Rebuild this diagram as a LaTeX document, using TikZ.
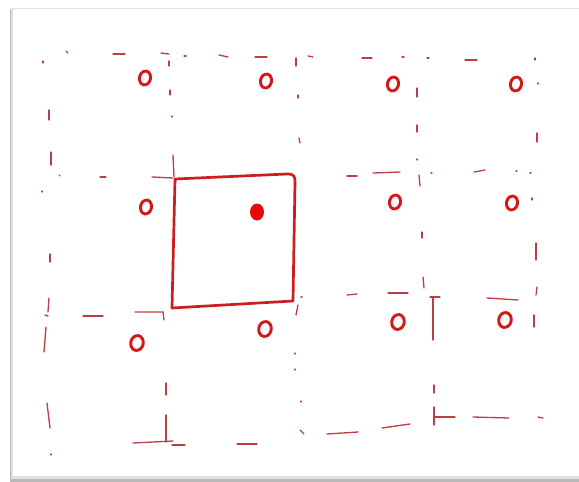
\documentclass[tikz,border=0pt]{standalone}
\usetikzlibrary{shapes.geometric}
\definecolor{dashc}{RGB}{190,60,66}
\definecolor{ringc}{RGB}{210,25,25}
\definecolor{boxc}{RGB}{205,30,30}
\definecolor{dotc}{RGB}{230,10,10}
\tikzset{
  dsh/.style={draw=dashc, line width=1.3pt, line cap=round},
  ring/.style={ellipse, draw=ringc, line width=2.9pt, minimum width=11pt, minimum height=14pt, inner sep=0pt, rotate=-12},
  bigring/.style={ring, minimum width=12.5pt, minimum height=15pt},
  reddot/.style={ellipse, fill=dotc, minimum width=14pt, minimum height=17pt, inner sep=0pt},
  sqbox/.style={draw=boxc, line width=2.7pt, line join=round}
}
\begin{document}
\begin{tikzpicture}[x=1pt,y=-1pt]
\useasboundingbox (0,0) rectangle (579,482);
% card with shadow
\fill[white] (0,0) rectangle (579,482);
\fill[gray!55] (10,10) rectangle (579,482);
\fill[gray!25] (11,8) rectangle (579,479);
\fill[white] (13,9) rectangle (579,476);
% top row dashes
\draw[dsh] (43,61)--(43,63);
\draw[dsh] (66,51)--(68,53);
\draw[dsh] (113,54)--(125,54);
\draw[dsh] (161,53)--(169,54);
\draw[dsh] (184,56)--(186,56);
\draw[dsh] (219,55)--(228,57);
\draw[dsh] (255,57)--(267,57);
\draw[dsh] (296,58)--(296,66);
\draw[dsh] (169,61)--(169,66);
\draw[dsh] (308,56)--(313,57);
\draw[dsh] (362,58)--(372,58);
\draw[dsh] (402,57)--(404,57);
\draw[dsh] (427,58)--(429,58);
\draw[dsh] (465,60)--(477,60);
\draw[dsh] (535,58)--(535,60);
% upper verticals
\draw[dsh] (170,90)--(170,95);
\draw[dsh] (172,116)--(172,117);
\draw[dsh] (49,110)--(49,120);
\draw[dsh] (298,95)--(298,98);
\draw[dsh] (299,138)--(300,143);
\draw[dsh] (51,152)--(51,165);
\draw[dsh] (417,88)--(417,97);
\draw[dsh] (538,83)--(538,84);
\draw[dsh] (417,125)--(417,132);
\draw[dsh] (537,133)--(537,142);
\draw[dsh] (417,159)--(417,160);
% second horizontal
\draw[dsh] (59,175)--(60,176);
\draw[dsh] (100,177)--(106,177);
\draw[dsh] (152,177)--(173,178);
\draw[dsh] (173,155)--(174,177);
\draw[dsh] (347,176)--(357,176);
\draw[dsh] (373,173)--(400,172);
\draw[dsh] (419,175)--(420,186);
\draw[dsh] (431,173)--(432,173);
\draw[dsh] (474,172)--(485,170);
\draw[dsh] (516,171)--(517,171);
\draw[dsh] (530,173)--(531,173);
% middle section
\draw[dsh] (42,191)--(42,192);
\draw[dsh] (532,198)--(532,200);
\draw[dsh] (50,254)--(50,262);
\draw[dsh] (422,232)--(422,238);
\draw[dsh] (536,243)--(536,260);
\draw[dsh] (423,277)--(424,288);
\draw[dsh] (537,287)--(536,295);
\draw[dsh] (49,298)--(48,312);
\draw[dsh] (45,315)--(48,316);
\draw[dsh] (83,316)--(103,316);
\draw[dsh] (135,312)--(163,312)--(164,320);
\draw[dsh] (301,297)--(302,297);
\draw[dsh] (298,305)--(296,315);
\draw[dsh] (347,295)--(357,294);
\draw[dsh] (388,293)--(408,293);
\draw[dsh] (430,297)--(440,297);
\draw[dsh] (433,297)--(433,340);
\draw[dsh] (487,298)--(518,300);
\draw[dsh] (534,315)--(534,327);
\draw[dsh] (46,327)--(44,352);
% bottom section
\draw[dsh] (295,353)--(295,354);
\draw[dsh] (295,369)--(295,370);
\draw[dsh] (434,385)--(434,393);
\draw[dsh] (301,401)--(301,402);
\draw[dsh] (434,407)--(434,425);
\draw[dsh] (434,417)--(455,417);
\draw[dsh] (473,417)--(509,418);
\draw[dsh] (538,417)--(543,418);
\draw[dsh] (300,430)--(304,434);
\draw[dsh] (327,434)--(358,432);
\draw[dsh] (382,428)--(410,424);
\draw[dsh] (47,403)--(50,428);
\draw[dsh] (51,454)--(51,455);
\draw[dsh] (166,383)--(166,395);
\draw[dsh] (166,415)--(166,442);
\draw[dsh] (133,443)--(173,441);
\draw[dsh] (172,445)--(185,445);
\draw[dsh] (237,444)--(257,444);
% highlighted square
\draw[sqbox] (175,179) -- (287,174) .. controls (294,174) and (295,176) .. (295,182) -- (293,301) -- (172,308) -- cycle;
% rings
\node[ring] (r11) at (145,78) {};
\node[ring] (r12) at (266,81) {};
\node[ring] (r13) at (393,84) {};
\node[ring] (r14) at (516,84) {};
\node[ring] (r21) at (146,207) {};
\node[reddot] (d22) at (257,212) {};
\node[ring] (r23) at (395,202) {};
\node[ring] (r24) at (512,203) {};
\node[bigring] (r31) at (137,343) {};
\node[bigring] (r32) at (265,329) {};
\node[bigring] (r33) at (398,322) {};
\node[bigring] (r34) at (505,320) {};
\end{tikzpicture}
\end{document}
